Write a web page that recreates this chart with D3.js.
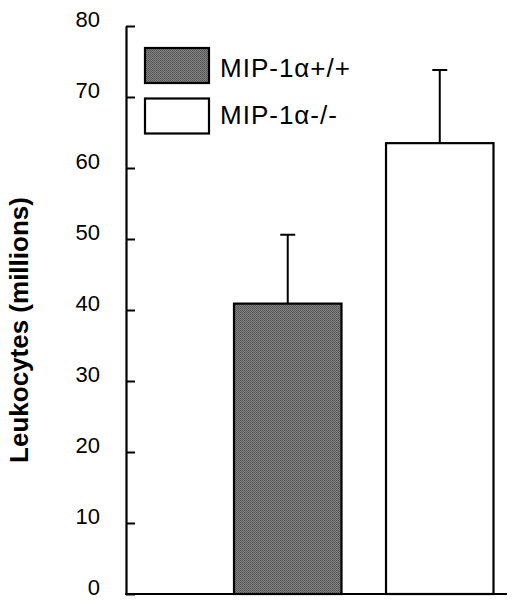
<!DOCTYPE html>
<html>
<head>
<meta charset="utf-8">
<script src="https://cdn.jsdelivr.net/npm/d3@7"></script>
<style>
  html, body { margin: 0; padding: 0; background: #fff; }
  svg { display: block; font-family: "Liberation Sans", Arial, Helvetica, sans-serif; }
</style>
</head>
<body>
<svg id="chart" width="520" height="609"></svg>
<script>
// Data
const categories = ["MIP-1α+/+", "MIP-1α-/-"];
const values = [40.9, 63.5];
const errors = [9.7, 10.3];
const yTicks = [0, 10, 20, 30, 40, 50, 60, 70, 80];
const yTitle = "Leukocytes (millions)";
const fills = ["#6f6f6f", "#ffffff"];

const svg = d3.select("#chart");

const axisX = 126, baseY = 594, topY = 26, xEnd = 507;

const y = d3.scaleLinear().domain([0, 80]).range([baseY, topY]);
const x = d3.scaleBand().domain(categories).range([234, 493.5]).paddingInner(0.293).paddingOuter(0);

// gray halftone-ish pattern
const defs = svg.append("defs");
const pat = defs.append("pattern").attr("id", "dots").attr("width", 2).attr("height", 2)
  .attr("patternUnits", "userSpaceOnUse");
pat.append("rect").attr("width", 2).attr("height", 2).attr("fill", "#808080");
pat.append("rect").attr("width", 1).attr("height", 1).attr("fill", "#565656");
pat.append("rect").attr("x", 1).attr("y", 1).attr("width", 1).attr("height", 1).attr("fill", "#5e5e5e");

// y axis
const yAxis = d3.axisLeft(y).tickValues(yTicks).tickSizeInner(-9).tickSizeOuter(0).tickPadding(26);
const gy = svg.append("g").attr("transform", `translate(${axisX},0)`).call(yAxis);
gy.select(".domain").attr("stroke", "#000").attr("stroke-width", 2.2);
gy.selectAll(".tick line").attr("stroke", "#000").attr("stroke-width", 2);
gy.selectAll(".tick text").attr("dy", "0").attr("font-size", 22).attr("fill", "#000")
  .attr("font-family", "'Liberation Sans', Arial, sans-serif");

// x baseline
svg.append("line").attr("x1", axisX - 1).attr("x2", xEnd).attr("y1", y(0)).attr("y2", y(0))
  .attr("stroke", "#000").attr("stroke-width", 2.2);

// error bars
const capW = 15;
categories.forEach((c, i) => {
  const cx = x(c) + x.bandwidth() / 2;
  svg.append("line").attr("x1", cx).attr("x2", cx)
    .attr("y1", y(values[i])).attr("y2", y(values[i] + errors[i]))
    .attr("stroke", "#000").attr("stroke-width", 2);
  svg.append("line").attr("x1", cx - capW / 2).attr("x2", cx + capW / 2)
    .attr("y1", y(values[i] + errors[i])).attr("y2", y(values[i] + errors[i]))
    .attr("stroke", "#000").attr("stroke-width", 2);
});

// bars
svg.selectAll("rect.bar").data(categories).enter().append("rect")
  .attr("class", "bar")
  .attr("x", d => x(d))
  .attr("width", x.bandwidth())
  .attr("y", (d, i) => y(values[i]))
  .attr("height", (d, i) => y(0) - y(values[i]))
  .attr("fill", (d, i) => i === 0 ? "url(#dots)" : fills[i])
  .attr("stroke", "#000").attr("stroke-width", 2.2);

// legend
const legend = svg.append("g");
categories.forEach((c, i) => {
  const ly = 48 + i * 50.5;
  legend.append("rect").attr("x", 145).attr("y", ly).attr("width", 64).attr("height", 35)
    .attr("fill", i === 0 ? "url(#dots)" : fills[i]).attr("stroke", "#000").attr("stroke-width", 2.2);
  legend.append("text").attr("x", 220).attr("y", ly + 29 - i * 3.5)
    .attr("font-size", 26).attr("letter-spacing", 1).attr("fill", "#000").text(c);
});

// y title
svg.append("text")
  .attr("transform", `translate(28,330) rotate(-90)`)
  .attr("text-anchor", "middle")
  .attr("font-size", 26).attr("font-weight", "bold").attr("fill", "#000")
  .text(yTitle);
</script>
</body>
</html>
